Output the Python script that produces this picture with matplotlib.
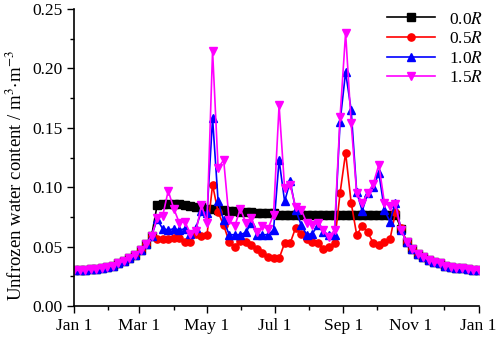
import numpy as np
import matplotlib.pyplot as plt
from matplotlib.ticker import MultipleLocator, FixedLocator

plt.rcParams['font.family'] = ['Liberation Serif', 'DejaVu Serif']
plt.rcParams['mathtext.fontset'] = 'stix'

# day of year, every 5 days
days = np.arange(0, 366, 5)

# shared winter parts (all series overlap here)
head = [0.030, 0.030, 0.030, 0.031, 0.031, 0.032, 0.033, 0.034, 0.036, 0.038,
        0.040, 0.043, 0.047, 0.052, 0.059]
tail = [0.054, 0.048, 0.044, 0.041, 0.039, 0.037, 0.036, 0.034, 0.033, 0.032,
        0.032, 0.031, 0.030, 0.030]

# day 75 .. 295
r00 = [0.085, 0.086, 0.086, 0.086, 0.086, 0.085, 0.084, 0.083, 0.083, 0.082,
       0.082, 0.081, 0.081, 0.080, 0.080, 0.079, 0.079, 0.079, 0.078, 0.078,
       0.078, 0.078, 0.077, 0.077, 0.077, 0.077, 0.077, 0.077, 0.077, 0.077,
       0.077, 0.077, 0.077, 0.077, 0.077, 0.077, 0.077, 0.077, 0.077, 0.077,
       0.077, 0.077, 0.077, 0.077, 0.065]
r05 = [0.056, 0.056, 0.056, 0.057, 0.057, 0.054, 0.054, 0.061, 0.059, 0.060,
       0.102, 0.079, 0.068, 0.054, 0.050, 0.055, 0.054, 0.051, 0.048, 0.045,
       0.041, 0.040, 0.040, 0.053, 0.053, 0.066, 0.061, 0.056, 0.054, 0.053,
       0.048, 0.050, 0.053, 0.095, 0.129, 0.087, 0.060, 0.067, 0.062, 0.053,
       0.051, 0.054, 0.056, 0.079, 0.066]
r10 = [0.073, 0.065, 0.064, 0.065, 0.064, 0.065, 0.061, 0.066, 0.080, 0.078,
       0.158, 0.088, 0.072, 0.060, 0.060, 0.060, 0.062, 0.070, 0.060, 0.060,
       0.060, 0.064, 0.123, 0.088, 0.105, 0.081, 0.068, 0.060, 0.061, 0.068,
       0.062, 0.060, 0.060, 0.155, 0.197, 0.165, 0.096, 0.080, 0.095, 0.100,
       0.112, 0.081, 0.071, 0.087, 0.064]
r15 = [0.074, 0.076, 0.097, 0.082, 0.070, 0.071, 0.061, 0.063, 0.085, 0.070,
       0.215, 0.116, 0.123, 0.072, 0.067, 0.082, 0.070, 0.074, 0.062, 0.067,
       0.065, 0.077, 0.169, 0.099, 0.102, 0.083, 0.081, 0.070, 0.068, 0.070,
       0.064, 0.058, 0.064, 0.159, 0.230, 0.154, 0.095, 0.087, 0.095, 0.103,
       0.119, 0.087, 0.084, 0.086, 0.064]

month_days = [0, 31, 59, 90, 120, 151, 181, 212, 243, 273, 304, 334, 365]
major_days = [0, 59, 120, 181, 243, 304, 365]
major_labels = ['Jan 1', 'Mar 1', 'May 1', 'Jul 1', 'Sep 1', 'Nov 1', 'Jan 1']

fig = plt.figure(figsize=(4.98, 3.37), dpi=100)
ax = fig.add_axes([0.1486, 0.092, 0.8125, 0.881])

ax.plot(days, head + r00 + tail, color='black', marker='s', ms=5.2, lw=1.2, label='0.0$R$')
ax.plot(days, head + r05 + tail, color='red', marker='o', ms=5.2, lw=1.2, label='0.5$R$')
ax.plot(days, head + r10 + tail, color='blue', marker='^', ms=5.8, lw=1.2, label='1.0$R$')
ax.plot(days, head + r15 + tail, color='magenta', marker='v', ms=5.8, lw=1.2, label='1.5$R$')

ax.set_xlim(0, 365)
ax.set_ylim(0, 0.25)
ax.set_xticks(major_days)
ax.set_xticklabels(major_labels)
ax.xaxis.set_minor_locator(FixedLocator(month_days))
ax.yaxis.set_major_locator(MultipleLocator(0.05))
ax.yaxis.set_minor_locator(MultipleLocator(0.025))
ax.yaxis.set_major_formatter(plt.FormatStrFormatter('%.2f'))
ax.tick_params(which='both', direction='out', labelsize=12.5, width=1)
ax.tick_params(which='major', length=5)
ax.tick_params(which='minor', length=3)
ax.spines['top'].set_visible(False)
ax.spines['right'].set_visible(False)
ax.spines['left'].set_linewidth(1.2)
ax.spines['bottom'].set_linewidth(1.2)

ax.set_ylabel('Unfrozen water content / m$^{3}$$\\cdot$m$^{-3}$', fontsize=13.5)
ax.yaxis.set_label_coords(-0.118, 0.44)
ax.legend(loc='upper right', frameon=False, fontsize=12.5, handlelength=2.8,
          labelspacing=0.2, bbox_to_anchor=(1.05, 1.045))

plt.savefig('out.png', dpi=100)
